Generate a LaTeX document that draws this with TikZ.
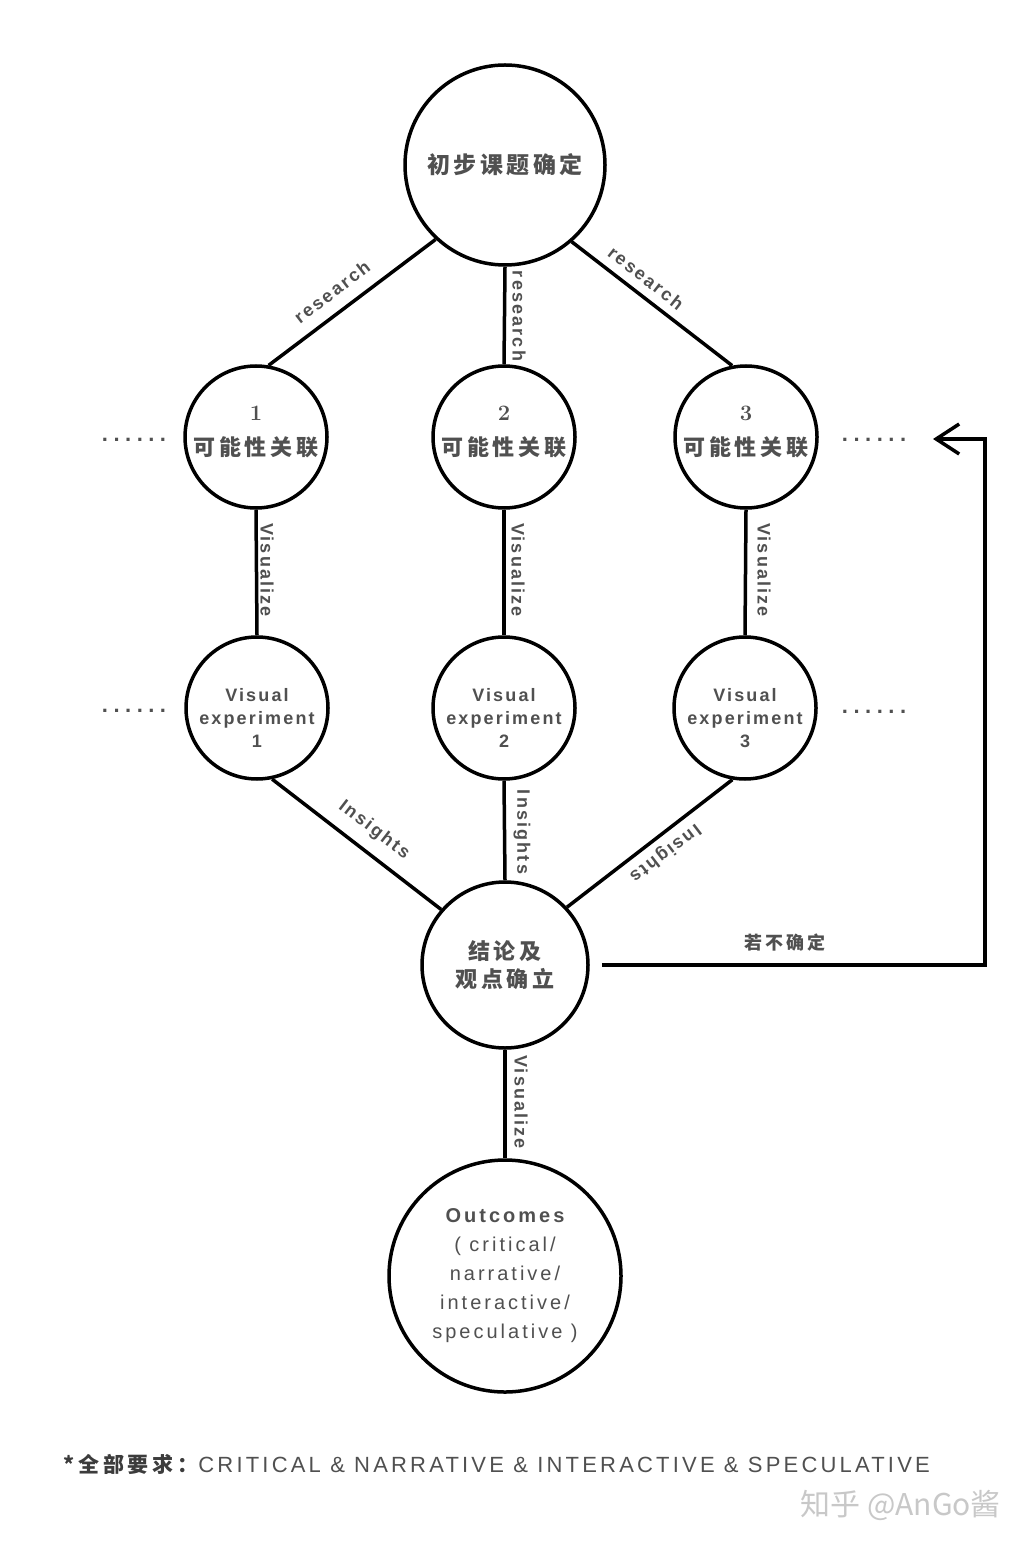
\documentclass[tikz,border=0pt]{standalone}
\usepackage{fontspec}
\usetikzlibrary{arrows.meta}
\newfontfamily\cjkf{Noto Sans CJK SC}[LetterSpace=18]
\newfontfamily\cjkt{Noto Sans CJK SC}[LetterSpace=15]
\newfontfamily\cjkw{Noto Sans CJK SC}
\newfontfamily\labf{Liberation Sans}[LetterSpace=12]
\newfontfamily\outf{Liberation Sans}[LetterSpace=15]
\newfontfamily\botf{Liberation Sans}[LetterSpace=14.5]
\newfontfamily\dotf{Liberation Sans}[LetterSpace=25]
\definecolor{tgray}{RGB}{80,80,80}
\definecolor{bgray}{RGB}{60,60,60}
\definecolor{wgray}{RGB}{200,200,200}
\begin{document}
\begin{tikzpicture}[x=0.5pt,y=-0.5pt,
  circ/.style={circle,draw=black,line width=1.75pt,inner sep=0pt,align=center,text=tgray},
  conn/.style={line width=1.75pt,draw=black},
  elab/.style={font=\labf\bfseries\fontsize{9pt}{10pt}\selectfont,text=tgray,inner sep=0pt},
  dots/.style={font=\dotf\bfseries\fontsize{11pt}{12pt}\selectfont,text=tgray,inner sep=0pt},
  relnode/.style={circ,minimum size=71pt,font=\fontsize{11pt}{17.5pt}\selectfont},
  expnode/.style={circ,minimum size=71pt,font=\labf\bfseries\fontsize{9pt}{11.5pt}\selectfont}
]
\fill[white] (0,0) rectangle (1034,1550);
\useasboundingbox (0,0) rectangle (1034,1550);

% nodes
\node[circ,minimum size=100pt,font=\cjkt\bfseries\fontsize{11.5pt}{14pt}\selectfont] (top) at (505,165) {初步课题确定};

\node[relnode] (c1) at (256,437) {{\rmfamily\bfseries 1}\\{\cjkf\bfseries 可能性关联\rule[-5.8pt]{0pt}{0pt}}};
\node[relnode] (c2) at (504,437) {{\rmfamily\bfseries 2}\\{\cjkf\bfseries 可能性关联\rule[-5.8pt]{0pt}{0pt}}};
\node[relnode] (c3) at (746,437) {{\rmfamily\bfseries 3}\\{\cjkf\bfseries 可能性关联\rule[-5.8pt]{0pt}{0pt}}};

\node[expnode] (v1) at (257,708) {\rule{0pt}{16.5pt}Visual\\experiment\\1};
\node[expnode] (v2) at (504,708) {\rule{0pt}{16.5pt}Visual\\experiment\\2};
\node[expnode] (v3) at (745,708) {\rule{0pt}{16.5pt}Visual\\experiment\\3};

\node[circ,minimum size=83pt,font=\cjkf\bfseries\fontsize{11pt}{14pt}\selectfont] (concl) at (505,965) {结论及\\观点确立};

\node[circ,minimum size=116pt,font=\outf\fontsize{10pt}{14.5pt}\selectfont] (out) at (505,1276)
  {{\bfseries Outcomes}\\( critical/\\narrative/\\interactive/\\speculative )};

% connectors
\draw[conn] (top.227) -- (c1.80);
\draw[conn] (top.south) -- (c2.north);
\draw[conn] (top.311) -- (c3.101);
\draw[conn] (c1.south) -- (v1.north);
\draw[conn] (c2.south) -- (v2.north);
\draw[conn] (c3.south) -- (v3.north);
\draw[conn] (v1.282) -- (concl.139);
\draw[conn] (v2.south) -- (concl.north);
\draw[conn] (v3.260) -- (concl.43);
\draw[conn] (concl.south) -- (out.north);

\coordinate (corner) at (985,439);
\coordinate (back) at (933,439);
\draw[conn,miter limit=4,-{Straight Barb[length=11.5pt,width=15pt]},shorten <=6pt] (concl.east) -| (corner) -- (back);

% edge labels
\node[elab,rotate=37.5] (lr1) at (332,292) {research};
\node[elab,rotate=-90] (lr2) at (519,316) {research};
\node[elab,rotate=-38] (lr3) at (646,278) {research};
\node[elab,rotate=-90] (lv1) at (267,570) {Visualize};
\node[elab,rotate=-90] (lv2) at (518,570) {Visualize};
\node[elab,rotate=-90] (lv3) at (764,570) {Visualize};
\node[elab,rotate=-37.5] (li1) at (374,830) {Insights};
\node[elab,rotate=-90] (li2) at (522,832) {Insights};
\node[elab,rotate=217.4] (li3) at (665,853) {Insights};
\node[elab,rotate=-90] (lv4) at (521,1102) {Visualize};
\node[font=\cjkf\bfseries\fontsize{9pt}{10pt}\selectfont,text=tgray,inner sep=0pt] (unsure) at (785,943) {若不确定};

% dots
\node[dots] (d1) at (134,440) {......};
\node[dots] (d2) at (874,440) {......};
\node[dots] (d3) at (134,711) {......};
\node[dots] (d4) at (874,712) {......};

% footnote
\node[anchor=base west,inner sep=0pt,text=bgray] (req) at (63,1472)
  {{\cjkf\bfseries\fontsize{10.5pt}{12pt}\selectfont *全部要求：}{\botf\color{tgray}\fontsize{11pt}{12pt}\selectfont CRITICAL \& NARRATIVE \& INTERACTIVE \& SPECULATIVE}};

% watermark
\node[anchor=base west,inner sep=0pt,text=wgray,font=\cjkw\fontsize{15pt}{16pt}\selectfont] (wm) at (800,1515) {知乎 @AnGo酱};
\end{tikzpicture}
\end{document}
